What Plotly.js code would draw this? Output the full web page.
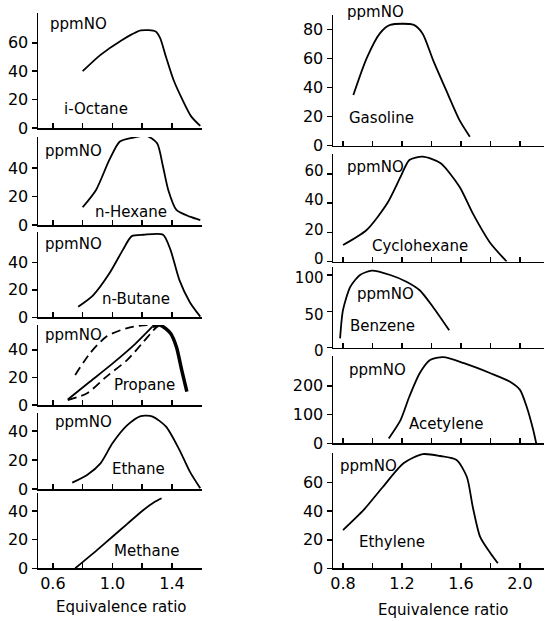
<!DOCTYPE html>
<html><head><meta charset="utf-8">
<script src="https://cdn.plot.ly/plotly-3.0.1.min.js"></script>
<style>html,body{margin:0;padding:0;background:#fff}</style>
</head><body><div id="chart" style="width:545px;height:621px"></div>
<script>
// ---- data (equivalence ratio vs ppm NO) ----
const octaneX = [0.80,0.92,1.05,1.19,1.29,1.32,1.36,1.41,1.47,1.53,1.59];
const octaneY = [40,51.5,61,68.7,68,63.5,50,34,20,8,1.5];
const hexaneX = [0.80,0.89,0.98,1.05,1.14,1.23,1.30,1.34,1.375,1.43,1.52,1.59];
const hexaneY = [12.5,24.7,46,58.8,61.6,62.8,57.6,41,24.7,10.6,5.9,3.5];
const butaneX = [0.77,0.87,0.98,1.07,1.13,1.21,1.34,1.39,1.45,1.52,1.59];
const butaneY = [7.7,16,32,49,59,60,60,49,27,11,0.5];
const propaneSolidX = [0.70,0.85,1.00,1.15,1.27];
const propaneSolidY = [4,17,30,44,57];
const propaneUpperX = [0.75,0.85,0.96,1.10,1.23,1.30];
const propaneUpperY = [21.8,37.6,49.7,55.8,58,58];
const propaneLowerX = [0.70,0.83,0.96,1.10,1.21,1.29,1.32];
const propaneLowerY = [3.6,8.5,20.6,32.7,46,55.8,58];
const propaneRichX = [1.27,1.32,1.39,1.43,1.465,1.50];
const propaneRichY = [57,58,52,42,25.5,9.7];
const ethaneX = [0.73,0.83,0.92,1.00,1.10,1.19,1.27,1.36,1.45,1.52,1.59];
const ethaneY = [4.4,9.7,17.7,31.5,44,50.3,49.9,43,27,12,0.5];
const methaneX = [0.75,0.90,1.00,1.10,1.20,1.28,1.33];
const methaneY = [0,13,22,31,40,46,48.8];
const gasolineX = [0.87,0.96,1.05,1.12,1.28,1.34,1.41,1.50,1.59,1.66];
const gasolineY = [34.8,60,77.2,83,83,77,59,38,17.6,6.2];
const cyclohexX = [0.80,0.96,1.10,1.19,1.25,1.34,1.46,1.59,1.68,1.80,1.91];
const cyclohexY = [11.3,21.6,39.9,58,69.6,71.9,67.5,51.3,33,12.5,0];
const benzeneX = [0.78,0.80,0.85,0.915,0.995,1.12,1.23,1.32,1.41,1.52];
const benzeneY = [12.8,52,84,100,106,100,90.8,79,56,24];
const acetyleneX = [1.11,1.19,1.25,1.32,1.39,1.48,1.62,1.80,1.93,2.00,2.045,2.09,2.11];
const acetyleneY = [17,81,163,244,290,300,279,244,215,186,128,46,0];
const ethyleneX = [0.80,0.94,1.07,1.21,1.34,1.46,1.57,1.64,1.68,1.73,1.80,1.85];
const ethyleneY = [26.8,40.9,57,73.6,80,78.7,75.9,64,43,22,10.5,3.5];

const fuelNames = ["i-Octane","n-Hexane","n-Butane","Propane","Ethane","Methane",
                   "Gasoline","Cyclohexane","Benzene","Acetylene","Ethylene"];
const leftTickVals = [0.6,0.8,1.0,1.2,1.4,1.6];
const leftTickText = ["0.6","","1.0","","1.4",""];
const rightTickVals = [0.8,1.0,1.2,1.4,1.6,1.8,2.0];
const rightTickText = ["0.8","","1.2","","1.6","","2.0"];
const yTicks = [[0,20,40,60],[0,20,40],[0,20,40],[0,20,40],[0,20,40],[0,20,40],
                [0,20,40,60,80],[0,20,40,60],[0,50,100],[0,100,200],[0,20,40,60]];
const yMax = [81,62,62,58,52.4,52.5,89.8,73.7,111,304,80.8];
const yLabel = "ppmNO";
const xTitle = "Equivalence ratio";

// ---- layout geometry (pixels) ----
const W = 545, H = 621;
const panelPx = [[13,128],[137,225],[232,317.3],[325,405],[413,489],[493,568.3],
                 [15,145.7],[154,261.5],[267,347.7],[356,443.3],[453,568.3]];
const colPx = {L:[38,201.75], R:[333,544]};
const FONT = "DejaVu Sans";

const seriesList = [
  {x:octaneX,y:octaneY,p:0},{x:hexaneX,y:hexaneY,p:1},{x:butaneX,y:butaneY,p:2},
  {x:propaneSolidX,y:propaneSolidY,p:3},
  {x:propaneUpperX,y:propaneUpperY,p:3,dash:'9px,5px'},
  {x:propaneLowerX,y:propaneLowerY,p:3,dash:'9px,5px'},
  {x:propaneRichX,y:propaneRichY,p:3,w:3.5},
  {x:ethaneX,y:ethaneY,p:4},{x:methaneX,y:methaneY,p:5},
  {x:gasolineX,y:gasolineY,p:6},{x:cyclohexX,y:cyclohexY,p:7},
  {x:benzeneX,y:benzeneY,p:8},{x:acetyleneX,y:acetyleneY,p:9},
  {x:ethyleneX,y:ethyleneY,p:10}
];

const traces = seriesList.map(s => ({
  x:s.x, y:s.y, type:'scatter', mode:'lines',
  xaxis: s.p===0 ? 'x' : 'x'+(s.p+1), yaxis: s.p===0 ? 'y' : 'y'+(s.p+1),
  line:{color:'#000', width:s.w||1.8, dash:s.dash||'solid', shape:'spline', smoothing:0.7},
  hoverinfo:'skip', showlegend:false
}));

const layout = {
  width:W, height:H, margin:{l:0,r:0,t:0,b:0},
  paper_bgcolor:'#fff', plot_bgcolor:'#fff', showlegend:false,
  font:{family:FONT, color:'#000', size:16},
  annotations:[], 
};
for (let i=0;i<11;i++){
  const left = i<6;
  const bottom = (i===5 || i===10);
  const cp = left ? colPx.L : colPx.R;
  const pp = panelPx[i];
  const xk = i===0 ? 'xaxis' : 'xaxis'+(i+1);
  const yk = i===0 ? 'yaxis' : 'yaxis'+(i+1);
  layout[xk] = {
    domain:[cp[0]/W, cp[1]/W], anchor: i===0?'y':'y'+(i+1),
    range: left ? [0.5,1.6] : [0.732,2.163],
    tickmode:'array', tickvals: left?leftTickVals:rightTickVals,
    ticktext: left?leftTickText:rightTickText,
    showticklabels: bottom, ticks:'inside', ticklen:5, tickwidth:1.5, tickcolor:'#000',
    showline:true, linecolor:'#000', linewidth:1.5, showgrid:false, zeroline:false,
    tickfont:{size:16, family:FONT}, fixedrange:true
  };
  layout[yk] = {
    domain:[1-pp[1]/H, 1-pp[0]/H], anchor: i===0?'x':'x'+(i+1),
    range:[0,yMax[i]], tickmode:'array', tickvals:yTicks[i],
    ticks:'outside', ticklen:5, tickwidth:1.5, tickcolor:'#000',
    showline:true, linecolor:'#000', linewidth:1.5, showgrid:false, zeroline:false,
    tickfont:{size:((i===7||i===8) ? 15 : 16), family:FONT}, fixedrange:true
  };
}
layout.yaxis8.ticklabelshift = -3;
layout.yaxis9.ticklabelshift = 3;
// label positions (pixels: left x, centre y)
const ppmPos = [[48,24],[43,151],[43,244],[43,335],[53,422],null,
                [345,12],[345,167],[355,294],[347,370],[338,466]];
const namePos = [[62,109],[93,212],[100,299],[112,385],[110,469],[112,551],
                 [347,118],[370,246],[348,326],[407,424],[357,542]];
function ann(t,px,py,size){
  layout.annotations.push({text:t, x:px/W, y:1-py/H, xref:'paper', yref:'paper',
    xanchor:'left', yanchor:'middle', showarrow:false, font:{size:size, family:FONT, color:'#000'}});
}
for (let i=0;i<11;i++){
  if (ppmPos[i]) ann(yLabel, ppmPos[i][0], ppmPos[i][1], 15);
  ann(fuelNames[i], namePos[i][0], namePos[i][1], 15);
}
layout.annotations.push({text:xTitle, x:121/W, y:1-607/H, xref:'paper', yref:'paper',
  xanchor:'center', yanchor:'middle', showarrow:false, font:{size:15, family:FONT}});
layout.annotations.push({text:xTitle, x:443/W, y:1-610/H, xref:'paper', yref:'paper',
  xanchor:'center', yanchor:'middle', showarrow:false, font:{size:15, family:FONT}});

Plotly.newPlot('chart', traces, layout, {staticPlot:true, displayModeBar:false});
</script></body></html>
